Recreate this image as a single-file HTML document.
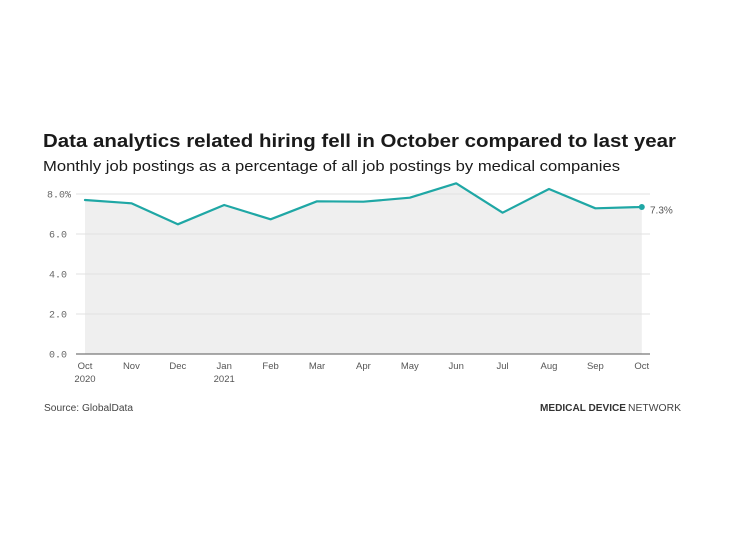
<!DOCTYPE html>
<html>
<head>
<meta charset="utf-8">
<style>
  html, body { margin: 0; padding: 0; background: #ffffff; }
  svg { display: block; }
</style>
</head>
<body>
<svg width="735" height="551" viewBox="0 0 735 551" xmlns="http://www.w3.org/2000/svg">
  <rect x="0" y="0" width="735" height="551" fill="#ffffff"/>

  <!-- Title & subtitle -->
  <text x="43" y="147" font-family="Liberation Sans, sans-serif" font-weight="bold" font-size="18" fill="#1a1a1a" textLength="633" lengthAdjust="spacingAndGlyphs">Data analytics related hiring fell in October compared to last year</text>
  <text x="43" y="171" font-family="Liberation Sans, sans-serif" font-size="14.5" fill="#1a1a1a" textLength="577" lengthAdjust="spacingAndGlyphs">Monthly job postings as a percentage of all job postings by medical companies</text>

  <!-- Area fill -->
  <polygon fill="#efefef" points="85,354 85,200 131.4,203.3 177.8,224.3 224.2,205 270.6,219.3 317,201.3 363.4,201.7 409.8,197.7 456.2,183.3 502.6,212.7 549,189 595.4,208.3 641.8,207 641.8,354"/>

  <!-- Gridlines -->
  <g stroke="#e2e2e2" stroke-width="1">
    <line x1="76" y1="194" x2="650" y2="194"/>
    <line x1="76" y1="234" x2="650" y2="234"/>
    <line x1="76" y1="274" x2="650" y2="274"/>
    <line x1="76" y1="314" x2="650" y2="314"/>
  </g>
  <!-- X axis -->
  <line x1="76" y1="354" x2="650" y2="354" stroke="#777777" stroke-width="1.3"/>

  <!-- Y tick labels -->
  <g font-family="Liberation Mono, monospace" font-size="10" fill="#666666">
    <text x="47" y="197.5">8.0%</text>
    <text x="67" y="237.5" text-anchor="end">6.0</text>
    <text x="67" y="277.5" text-anchor="end">4.0</text>
    <text x="67" y="317.5" text-anchor="end">2.0</text>
    <text x="67" y="357.5" text-anchor="end">0.0</text>
  </g>

  <!-- X tick labels -->
  <g font-family="Liberation Sans, sans-serif" font-size="9.5" fill="#555555" text-anchor="middle">
    <text x="85" y="369">Oct</text>
    <text x="85" y="382">2020</text>
    <text x="131.4" y="369">Nov</text>
    <text x="177.8" y="369">Dec</text>
    <text x="224.2" y="369">Jan</text>
    <text x="224.2" y="382">2021</text>
    <text x="270.6" y="369">Feb</text>
    <text x="317" y="369">Mar</text>
    <text x="363.4" y="369">Apr</text>
    <text x="409.8" y="369">May</text>
    <text x="456.2" y="369">Jun</text>
    <text x="502.6" y="369">Jul</text>
    <text x="549" y="369">Aug</text>
    <text x="595.4" y="369">Sep</text>
    <text x="641.8" y="369">Oct</text>
  </g>

  <!-- Line -->
  <polyline fill="none" stroke="#1fa7a5" stroke-width="2.2" stroke-linejoin="round" stroke-linecap="round" points="85,200 131.4,203.3 177.8,224.3 224.2,205 270.6,219.3 317,201.3 363.4,201.7 409.8,197.7 456.2,183.3 502.6,212.7 549,189 595.4,208.3 641.8,207"/>
  <circle cx="641.8" cy="207" r="3" fill="#1fa7a5"/>
  <text x="650" y="213.5" font-family="Liberation Sans, sans-serif" font-size="10" fill="#555555">7.3%</text>

  <!-- Footer -->
  <text x="44" y="411" font-family="Liberation Sans, sans-serif" font-size="10" fill="#444444" textLength="89" lengthAdjust="spacingAndGlyphs">Source: GlobalData</text>
  <text x="540" y="411" font-family="Liberation Sans, sans-serif" font-size="10.5" fill="#333333"><tspan font-weight="bold" textLength="86" lengthAdjust="spacingAndGlyphs">MEDICAL DEVICE</tspan><tspan x="628" textLength="53" lengthAdjust="spacingAndGlyphs" fill="#444444">NETWORK</tspan></text>
</svg>
</body>
</html>
